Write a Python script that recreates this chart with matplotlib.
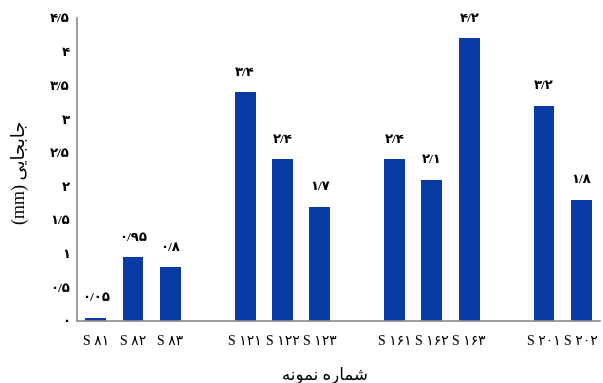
import numpy as np
import matplotlib
matplotlib.use('Agg')
import matplotlib.pyplot as plt

plt.rcParams['font.family'] = ['Liberation Serif', 'DejaVu Sans']

# sample groups, a blank slot is left between groups
groups = [['81', '82', '83'], ['121', '122', '123'], ['161', '162', '163'], ['201', '202']]
values = [[0.05, 0.95, 0.8], [3.4, 2.4, 1.7], [2.4, 2.1, 4.2], [3.2, 1.8]]
value_text = [['0.05', '0.95', '0.8'], ['3.4', '2.4', '1.7'], ['2.4', '2.1', '4.2'], ['3.2', '1.8']]
yticks = [0, 0.5, 1, 1.5, 2, 2.5, 3, 3.5, 4, 4.5]

# persian text in visual order (presentation forms)
ylab = '(mm) ' + '\uFEF0\uFEF3\uFE8E\uFEA0\uFE91\uFE8E\uFE9F'
xlab = '\uFEEA\uFEE7\uFEEE\uFEE4\uFEE7 \uFEE9\uFEAD\uFE8E\uFEE4\uFEB7'

fa_digits = str.maketrans('0123456789.', '\u06F0\u06F1\u06F2\u06F3\u06F4\u06F5\u06F6\u06F7\u06F8\u06F9/')


def fa(s):
    return s.translate(fa_digits)


pos, vals, labs, txts = [], [], [], []
for g, (names, v, t) in enumerate(zip(groups, values, value_text)):
    for i in range(len(names)):
        pos.append(g * 4 + i)
        vals.append(v[i])
        labs.append('S ' + fa(names[i]))
        txts.append(fa(t[i]))

fig = plt.figure(figsize=(6.03, 3.83), dpi=100)
ax = fig.add_axes([77 / 603, 1 - 321 / 383, 523 / 603, 303 / 383])

ax.bar(pos, vals, width=0.56, color='#0A3AA5')
for x, v, t in zip(pos, vals, txts):
    ax.text(x, v + 0.2, t, ha='center', va='bottom', fontsize=9.5, fontweight='bold')

ax.set_xlim(-0.5, 13.5)
ax.set_ylim(0, 4.5)
ax.set_xticks(pos)
ax.set_xticklabels(labs, fontsize=10)
ax.set_yticks(yticks)
ax.set_yticklabels([fa(('%g' % y)) for y in yticks], fontsize=9.5, fontweight='bold')
ax.tick_params(length=0)
ax.tick_params(axis='y', pad=5)
ax.tick_params(axis='x', pad=10)

for s in ['top', 'right']:
    ax.spines[s].set_visible(False)
for s in ['left', 'bottom']:
    ax.spines[s].set_color('#8C8C8C')
    ax.spines[s].set_linewidth(1.2)

fig.text(325 / 603, 1 - 375 / 383, xlab, ha='center', va='center', fontsize=12)
fig.text(20 / 603, 1 - 172 / 383, ylab, ha='center', va='center', rotation=90, fontsize=13)

fig.savefig('out.png', dpi=100)
